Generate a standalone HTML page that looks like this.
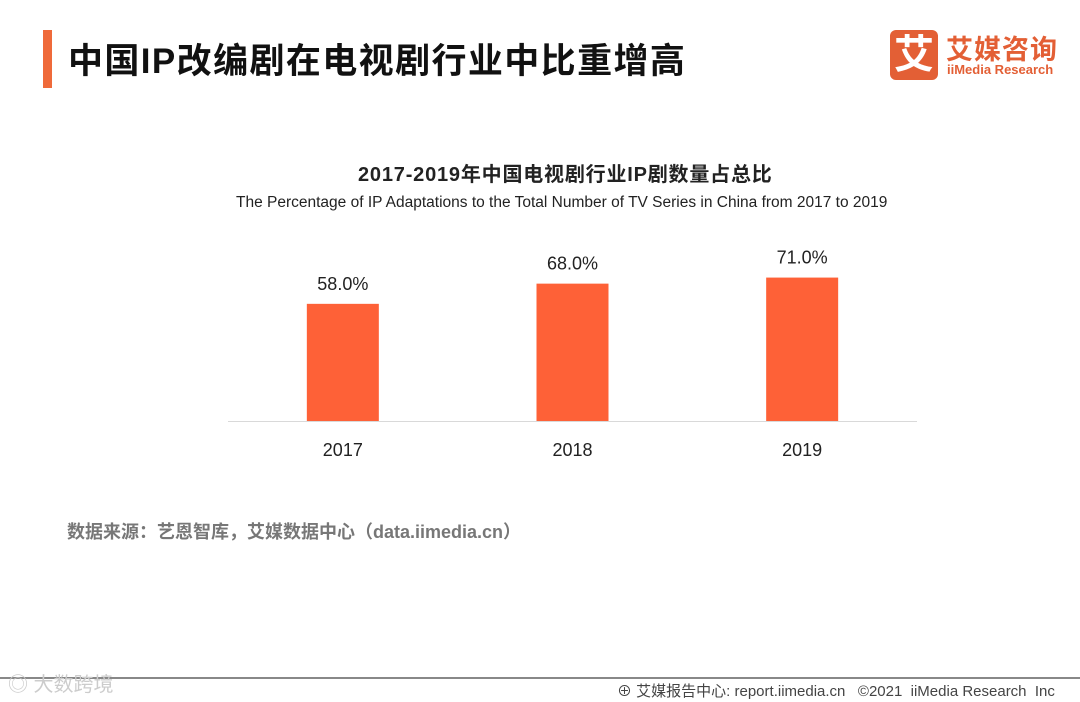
<!DOCTYPE html>
<html><head><meta charset="utf-8"><style>
body{margin:0;width:1080px;height:702px;background:#fff;overflow:hidden;position:relative;font-family:"Liberation Sans","Noto Sans CJK SC",sans-serif}
.abs{position:absolute;white-space:nowrap}
</style></head><body>
<div class="abs" style="left:43px;top:30px;width:9px;height:58px;background:#ef6a3a"></div>
<div class="abs" style="left:68px;top:33px;font-size:35px;font-weight:bold;color:#111;letter-spacing:1.4px">中国IP改编剧在电视剧行业中比重增高</div>
<div class="abs" style="left:890px;top:30px;width:170px;height:52px">
 <div class="abs" style="left:0;top:0;width:48px;height:50px;background:#e35f35;border-radius:6px;color:#fff;font-size:40px;font-weight:bold;text-align:center;line-height:50px">艾</div>
 <div class="abs" style="left:56px;top:-2px;font-size:27px;font-weight:bold;color:#e35f35;letter-spacing:1px">艾媒咨询</div>
 <div class="abs" style="left:57px;top:32px;font-size:13px;font-weight:bold;color:#e35f35">iiMedia Research</div>
</div>
<div class="abs" style="left:358px;top:158px;font-size:20px;font-weight:bold;color:#222;letter-spacing:0.8px">2017-2019年中国电视剧行业IP剧数量占总比</div>
<div class="abs" style="left:236px;top:194px;font-size:15.5px;color:#222">The Percentage of IP Adaptations to the Total Number of TV Series in China from 2017 to 2019</div>
<svg class="abs" style="left:0;top:0" width="1080" height="702" id="chart"></svg>
<div class="abs" style="left:67px;top:518px;font-size:18px;font-weight:bold;color:#777">数据来源：艺恩智库，艾媒数据中心（data.iimedia.cn）</div>
<div class="abs" style="left:0;top:677px;width:1080px;height:2px;background:#888"></div>
<div class="abs" style="left:8px;top:668px;font-size:20px;color:#ccc">◎ 大数跨境</div>
<div class="abs" style="left:617px;top:680px;font-size:15px;color:#444">⊕ 艾媒报告中心: report.iimedia.cn &nbsp; ©2021 &nbsp;iiMedia Research &nbsp;Inc</div>
<script>
const categories=["2017","2018","2019"];
const values=[58.0,68.0,71.0];
const valueLabels=["58.0%","68.0%","71.0%"];
const svg=document.getElementById('chart');
const NS="http://www.w3.org/2000/svg";
const x0=228,x1=917,baseY=421,pxPer=2.02,bw=72;
const xs=i=>x0+(x1-x0)/categories.length*(i+0.5);
const ys=v=>baseY-v*pxPer;
function mk(t,a){const e=document.createElementNS(NS,t);for(const k in a)e.setAttribute(k,a[k]);svg.appendChild(e);return e;}
categories.forEach((c,i)=>{
 const r=mk('rect',{x:xs(i)-bw/2,y:ys(values[i]),width:bw,height:baseY-ys(values[i]),fill:'#fe6137'});
 
 
 const t=mk('text',{x:xs(i),y:ys(values[i])-14,'text-anchor':'middle','font-size':18,fill:'#222','font-family':'Liberation Sans, sans-serif'});
 t.textContent=valueLabels[i];
 
 
 const l=mk('text',{x:xs(i),y:456,'text-anchor':'middle','font-size':18,fill:'#222','font-family':'Liberation Sans, sans-serif'});
 l.textContent=c;
 
 
});
const ax=mk('line',{x1:x0,x2:x1,y1:baseY+0.5,y2:baseY+0.5,stroke:'#d9d9d9','stroke-width':1});


</script>
</body></html>
